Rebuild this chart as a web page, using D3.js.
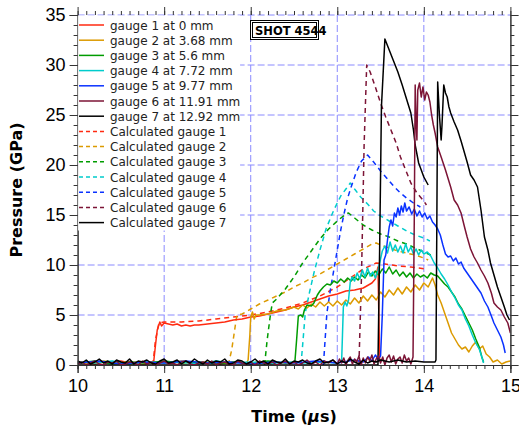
<!DOCTYPE html>
<html>
<head>
<meta charset="utf-8">
<script src="https://cdn.jsdelivr.net/npm/d3@7"></script>
<style>
body { margin: 0; background: #fff; }
svg { display: block; font-family: "DejaVu Sans", sans-serif; }
</style>
</head>
<body>
<div id="chart"></div>
<script>
// Measured gauges: [time (us), pressure (GPa)]
const gauge1 = [[10.0,0.2],[10.1,0.3],[10.2,0.1],[10.3,0.3],[10.4,0.2],[10.5,0.4],[10.6,0.2],[10.7,0.3],[10.8,0.1],[10.86,0.3],
  [10.88,0.4],[10.9,2.0],[10.92,3.5],[10.95,4.3],[10.97,3.9],[11.0,4.2],[11.05,4.1],[11.1,4.0],[11.15,4.1],[11.2,3.9],[11.25,4.0],
  [11.3,3.9],[11.35,4.0],[11.4,4.0],[11.5,4.1],[11.6,4.2],[11.7,4.3],[11.8,4.5],[11.9,4.6],[12.0,4.8],[12.1,4.9],[12.2,5.1],
  [12.3,5.3],[12.4,5.5],[12.5,5.8],[12.6,6.0],[12.7,6.3],[12.8,6.6],[12.9,6.9],[13.0,7.1],[13.1,7.4],[13.2,7.5],[13.3,7.7],
  [13.4,8.2],[13.44,8.6],[13.47,9.8],[13.48,5.0],[13.49,0.4]];
const gauge2 = [[10.0,0.3],[10.15,0.1],[10.3,0.4],[10.45,0.2],[10.6,0.3],[10.75,0.1],[10.9,0.3],[11.05,0.2],[11.2,0.4],[11.35,0.2],
  [11.5,0.3],[11.65,0.1],[11.8,0.3],[11.95,0.2],[11.97,0.5],[11.99,3.0],[12.0,4.8],[12.02,5.3],[12.04,4.6],[12.06,5.0],[12.1,5.0],
  [12.2,5.1],[12.3,5.4],[12.4,5.5],[12.5,5.8],[12.55,5.6],[12.6,6.0],[12.65,5.7],[12.7,6.1],[12.75,5.8],[12.8,6.3],[12.85,5.9],
  [12.9,6.3],[12.95,5.9],[13.0,6.4],[13.05,6.0],[13.1,6.5],[13.15,6.1],[13.2,6.7],[13.25,6.2],[13.3,6.9],[13.35,6.4],[13.4,7.0],
  [13.45,6.5],[13.5,7.3],[13.55,6.8],[13.6,7.5],[13.65,7.0],[13.7,7.7],[13.75,7.1],[13.8,7.8],[13.85,7.3],[13.9,8.0],[13.95,7.5],
  [14.0,8.2],[14.05,7.8],[14.1,8.7],[14.13,8.0],[14.16,7.0],[14.2,6.2],[14.24,5.2],[14.28,4.2],[14.32,3.2],[14.36,2.6],[14.4,2.0],
  [14.44,1.6],[14.48,1.8],[14.52,1.3],[14.56,1.9],[14.6,2.3],[14.64,1.6],[14.68,1.9],[14.72,1.1],[14.76,0.8],[14.8,0.3],
  [14.85,0.5],[14.9,0.1],[14.95,0.3],[15.0,0.4]];
const gauge3 = [[10.0,0.2],[10.2,0.4],[10.4,0.1],[10.6,0.3],[10.8,0.2],[11.0,0.4],[11.2,0.2],[11.4,0.3],[11.6,0.1],[11.8,0.3],
  [12.0,0.2],[12.2,0.4],[12.4,0.2],[12.51,0.3],[12.53,2.5],[12.55,4.9],[12.58,5.0],[12.6,4.8],[12.62,5.5],[12.65,6.0],[12.7,5.9],
  [12.73,6.2],[12.77,7.0],[12.8,7.4],[12.84,7.8],[12.88,8.1],[12.92,8.0],[12.96,8.4],[13.0,8.2],[13.04,8.6],[13.08,8.3],
  [13.12,8.7],[13.16,8.4],[13.2,8.8],[13.24,8.5],[13.28,9.0],[13.32,8.7],[13.36,9.3],[13.4,8.9],[13.44,9.4],[13.48,9.0],
  [13.52,9.6],[13.56,9.2],[13.6,9.8],[13.64,9.1],[13.68,9.5],[13.72,8.9],[13.76,9.3],[13.8,8.8],[13.84,9.2],[13.88,8.7],
  [13.92,9.1],[13.96,8.8],[14.0,9.0],[14.04,8.7],[14.08,9.2],[14.12,9.0],[14.16,8.9],[14.2,8.5],[14.24,8.1],[14.28,7.8],
  [14.32,7.3],[14.36,6.8],[14.4,6.1],[14.44,5.6],[14.48,4.9],[14.52,4.2],[14.56,3.5],[14.6,2.6],[14.64,1.8],[14.67,0.8],[14.69,0.3]];
const gauge4 = [[10.0,0.3],[10.2,0.2],[10.4,0.4],[10.6,0.1],[10.8,0.3],[11.0,0.2],[11.2,0.3],[11.4,0.1],[11.6,0.4],[11.8,0.2],
  [12.0,0.3],[12.2,0.1],[12.4,0.3],[12.6,0.2],[12.8,0.3],[13.0,0.2],[13.05,0.3],[13.06,3.0],[13.07,5.8],[13.09,6.3],[13.11,5.9],
  [13.13,6.5],[13.15,8.3],[13.17,8.8],[13.2,8.4],[13.23,9.2],[13.26,8.6],[13.29,9.5],[13.32,8.8],[13.35,9.7],[13.38,8.9],
  [13.41,9.3],[13.44,8.7],[13.47,9.4],[13.5,10.6],[13.52,11.4],[13.55,11.9],[13.58,11.2],[13.61,12.3],[13.64,11.4],[13.67,12.0],
  [13.7,11.3],[13.73,11.9],[13.76,11.2],[13.79,12.1],[13.82,11.3],[13.85,11.8],[13.88,11.1],[13.91,11.6],[13.94,11.0],
  [13.97,11.5],[14.0,11.1],[14.04,11.3],[14.08,10.9],[14.12,10.2],[14.16,9.7],[14.2,9.1],[14.24,8.6],[14.28,8.0],[14.32,7.3],
  [14.36,6.7],[14.4,6.0],[14.44,5.5],[14.48,4.6],[14.52,3.9],[14.56,3.0],[14.6,2.2],[14.64,1.6],[14.67,0.8],[14.69,0.2]];
const gauge5 = [[10.0,0.2],[10.25,0.4],[10.5,0.1],[10.75,0.3],[11.0,0.2],[11.25,0.4],[11.5,0.2],[11.75,0.3],[12.0,0.1],
  [12.25,0.3],[12.5,0.2],[12.75,0.4],[13.0,0.2],[13.2,0.5],[13.3,0.3],[13.36,0.8],[13.4,0.4],[13.44,1.0],[13.47,0.6],[13.5,0.9],
  [13.52,5.0],[13.54,10.5],[13.56,11.0],[13.58,12.5],[13.6,13.8],[13.62,14.5],[13.64,13.9],[13.66,15.2],[13.68,14.8],[13.7,15.7],
  [13.72,15.0],[13.74,15.9],[13.76,15.3],[13.78,16.2],[13.8,15.4],[13.83,15.8],[13.86,15.1],[13.89,15.6],[13.92,14.9],
  [13.95,15.4],[13.98,14.8],[14.01,15.2],[14.04,14.6],[14.07,14.9],[14.1,14.3],[14.13,14.0],[14.16,13.6],[14.19,13.0],
  [14.22,12.0],[14.25,11.1],[14.28,10.8],[14.31,10.9],[14.34,10.4],[14.37,10.7],[14.4,10.1],[14.43,10.3],[14.46,9.7],[14.5,9.2],
  [14.54,8.7],[14.58,8.2],[14.62,7.7],[14.66,7.2],[14.7,6.4],[14.74,5.8],[14.78,4.9],[14.81,4.2],[14.85,3.5],[14.89,2.8],
  [14.92,2.0],[14.94,1.2]];
const gauge6 = [[10.0,0.1],[10.05,0.3],[10.1,0.0],[10.15,0.2],[10.2,0.4],[10.25,0.1],[10.3,0.0],[10.35,0.3],[10.4,0.2],[10.45,0.4],
  [10.5,0.0],[10.55,0.1],[10.6,0.3],[10.65,0.2],[10.7,0.0],[10.75,0.4],[10.8,0.1],[10.85,0.3],[10.9,0.0],[10.95,0.2],
  [11.0,0.4],[11.05,0.1],[11.1,0.2],[11.15,0.0],[11.2,0.3],[11.25,0.4],[11.3,0.1],[11.35,0.0],[11.4,0.2],[11.45,0.3],
  [11.5,0.1],[11.55,0.4],[11.6,0.0],[11.65,0.2],[11.7,0.3],[11.75,0.1],[11.8,0.0],[11.85,0.4],[11.9,0.2],[11.95,0.1],
  [12.0,0.3],[12.05,0.0],[12.1,0.4],[12.15,0.2],[12.2,0.1],[12.25,0.3],[12.3,0.0],[12.35,0.2],[12.4,0.4],[12.45,0.1],
  [12.5,0.3],[12.55,0.0],[12.6,0.2],[12.65,0.5],[12.7,0.1],[12.75,0.3],[12.8,0.0],[12.85,0.4],[12.9,0.2],[12.95,0.5],
  [13.0,0.1],[13.025,0.6],[13.05,0.2],[13.075,0.7],[13.1,0.0],[13.125,0.5],[13.15,0.8],[13.175,0.1],[13.2,0.6],[13.225,0.3],
  [13.25,0.9],[13.275,0.0],[13.3,0.7],[13.325,0.2],[13.35,0.8],[13.375,0.4],[13.4,1.0],[13.425,0.1],[13.45,0.6],[13.475,0.9],
  [13.5,0.2],[13.525,0.8],[13.55,0.0],[13.575,0.7],[13.6,1.0],[13.625,0.3],[13.65,0.9],[13.675,0.1],[13.7,0.6],[13.725,0.8],
  [13.75,0.2],[13.775,1.0],[13.8,0.4],[13.825,0.7],[13.85,0.1],[13.875,0.8],
  [13.89,15.0],[13.9,28.0],[13.91,24.5],
  [13.92,22.5],[13.93,27.5],[13.95,28.2],[13.97,26.8],[13.99,27.8],[14.01,26.5],[14.03,27.3],[14.05,27.0],[14.07,26.3],
  [14.09,25.0],[14.11,24.0],[14.13,23.2],[14.16,21.8],[14.2,20.8],[14.25,19.5],[14.31,17.8],[14.35,16.5],[14.39,16.0],
  [14.43,15.2],[14.47,13.8],[14.5,12.8],[14.54,11.6],[14.58,10.8],[14.62,10.2],[14.66,9.5],[14.7,8.9],[14.74,8.2],[14.78,7.2],
  [14.81,6.2],[14.85,5.8],[14.89,5.5],[14.93,4.8],[14.97,4.2],[15.0,3.2]];
const gauge7 = [[10.0,0.4],[10.05,0.2],[10.1,0.5],[10.15,0.1],[10.2,0.3],[10.25,0.6],[10.3,0.2],[10.35,0.4],[10.4,0.1],[10.45,0.5],
  [10.5,0.3],[10.55,0.2],[10.6,0.6],[10.65,0.1],[10.7,0.4],[10.75,0.3],[10.8,0.5],[10.85,0.2],[10.9,0.1],[10.95,0.4],
  [11.0,0.6],[11.05,0.2],[11.1,0.3],[11.15,0.5],[11.2,0.1],[11.25,0.4],[11.3,0.2],[11.35,0.6],[11.4,0.3],[11.45,0.1],
  [11.5,0.5],[11.55,0.2],[11.6,0.4],[11.65,0.3],[11.7,0.6],[11.75,0.1],[11.8,0.2],[11.85,0.5],[11.9,0.4],[11.95,0.1],
  [12.0,0.3],[12.05,0.6],[12.1,0.2],[12.15,0.4],[12.2,0.1],[12.25,0.5],[12.3,0.3],[12.35,0.2],[12.4,0.6],[12.45,0.1],
  [12.5,0.4],[12.55,0.3],[12.6,0.5],[12.65,0.2],[12.7,0.1],[12.75,0.4],[12.8,0.6],[12.85,0.2],[12.9,0.3],[12.95,0.5],
  [13.0,0.1],[13.05,0.4],[13.1,0.2],[13.15,0.6],[13.2,0.3],[13.25,0.1],[13.3,0.5],[13.35,0.2],[13.4,0.4],[13.45,0.3],
  [13.5,0.5],[13.6,0.3],[13.7,0.5],[13.8,0.3],[13.9,0.4],[14.0,0.3],[14.13,0.3],
  [14.14,0.5],[14.15,14.0],[14.16,28.3],[14.18,25.0],[14.2,22.5],
  [14.21,24.0],[14.23,28.0],[14.25,27.2],[14.27,26.8],[14.29,25.8],[14.31,25.2],[14.35,24.3],[14.39,23.5],[14.43,22.4],
  [14.46,21.5],[14.5,20.3],[14.54,19.0],[14.58,18.5],[14.62,17.8],[14.66,15.5],[14.7,12.8],[14.74,11.5],[14.77,10.2],
  [14.81,9.0],[14.85,7.8],[14.89,6.8],[14.93,5.8],[14.96,5.0],[14.99,4.5]];

// Calculated gauges
const calc1 = [[10.87,0],[10.9,2.5],[10.94,4.2],[11.0,4.3],[11.2,4.3],[11.4,4.4],[11.6,4.6],[11.8,4.8],[12.0,5.0],[12.2,5.3],
  [12.4,5.7],[12.6,6.2],[12.8,6.9],[13.0,7.8],[13.1,8.4],[13.2,9.0],[13.3,9.6],[13.4,10.0],[13.45,10.2],[13.55,10.1],[13.7,9.9],
  [13.85,9.8],[14.02,9.6]];
const calc2 = [[11.74,0],[11.78,1.5],[11.84,5.0],[11.9,5.1],[12.0,5.6],[12.1,6.1],[12.2,6.5],[12.3,6.9],[12.4,7.3],[12.5,7.8],
  [12.6,8.2],[12.7,8.7],[12.8,9.1],[12.9,9.6],[13.0,10.1],[13.1,10.6],[13.2,11.1],[13.3,11.6],[13.4,12.1],[13.45,12.2],
  [13.5,12.0],[13.6,11.7],[13.7,11.4],[13.8,11.2],[13.9,11.0],[14.0,10.7],[14.05,10.5]];
const calc3 = [[12.16,0],[12.19,2.5],[12.23,5.2],[12.25,6.2],[12.3,6.6],[12.4,7.6],[12.5,8.8],[12.6,10.2],[12.7,11.4],[12.8,12.6],
  [12.9,13.6],[13.0,14.4],[13.1,15.1],[13.13,15.2],[13.2,14.7],[13.3,14.0],[13.4,13.5],[13.5,13.1],[13.6,12.8],[13.7,12.4],
  [13.8,12.1],[13.9,11.7],[14.0,11.3],[14.08,11.0]];
const calc4 = [[12.58,0],[12.6,2.0],[12.63,5.2],[12.68,7.3],[12.73,9.2],[12.8,11.5],[12.87,13.6],[12.96,15.5],[13.04,16.9],
  [13.1,17.6],[13.15,18.2],[13.2,17.6],[13.27,16.8],[13.35,16.1],[13.42,15.4],[13.5,14.9],[13.6,14.4],[13.7,13.9],[13.8,13.4],
  [13.9,13.0],[14.0,12.7],[14.07,12.4]];
const calc5 = [[12.84,0],[12.88,5.2],[12.92,7.5],[12.96,9.5],[13.0,11.5],[13.04,13.5],[13.08,15.2],[13.12,16.7],[13.16,17.8],
  [13.22,19.3],[13.28,20.4],[13.35,21.0],[13.42,20.3],[13.5,19.4],[13.58,18.6],[13.66,17.8],[13.73,17.2],[13.8,16.7],
  [13.88,16.2],[13.96,15.8]];
const calc6 = [[13.25,0],[13.28,9.0],[13.31,22.0],[13.34,30.0],[13.38,29.3],[13.44,27.8],[13.5,26.2],[13.56,24.8],[13.62,23.5],
  [13.68,22.2],[13.73,20.8],[13.79,19.5],[13.85,18.2],[13.92,17.2],[14.0,16.4],[14.03,16.0]];
const calc7 = [[10.0,0],[13.47,0],[13.49,12.0],[13.51,25.8],[13.55,32.6],[13.6,31.5],[13.65,30.4],[13.7,29.3],[13.75,28.0],
  [13.8,26.6],[13.85,25.2],[13.88,23.5],[13.9,22.0],[13.94,20.2],[14.0,18.8],[14.05,18.0]];

const legendLabels = ["gauge 1 at 0 mm", "gauge 2 at 3.68 mm", "gauge 3 at 5.6 mm", "gauge 4 at 7.72 mm",
  "gauge 5 at 9.77 mm", "gauge 6 at 11.91 mm", "gauge 7 at 12.92 mm",
  "Calculated gauge 1", "Calculated gauge 2", "Calculated gauge 3", "Calculated gauge 4",
  "Calculated gauge 5", "Calculated gauge 6", "Calculated gauge 7"];
const gaugeColors = ["#ff2a10", "#dc9a00", "#009c00", "#00cccc", "#0a32ff", "#7c1436", "#000000"];
const xTicks = [10, 11, 12, 13, 14, 15];
const yTicks = [0, 5, 10, 15, 20, 25, 30, 35];

const width = 519;
const height = 430;
const margin = { top: 15, right: 8.6, bottom: 65, left: 77.6 };

const svg = d3.select("#chart")
  .append("svg")
  .attr("width", width)
  .attr("height", height);

const x = d3.scaleLinear().domain([10, 15]).range([margin.left, width - margin.right]);
const y = d3.scaleLinear().domain([0, 35]).range([height - margin.bottom, margin.top]);

const x0 = x.range()[0], x1 = x.range()[1], y0 = y.range()[0], y1 = y.range()[1];

// grid
const grid = svg.append("g")
  .attr("stroke", "#8a8aff")
  .attr("stroke-width", 1)
  .attr("stroke-dasharray", "7,3");
grid.selectAll("line.v")
  .data(xTicks.slice(1, -1))
  .enter().append("line")
  .attr("x1", d => x(d)).attr("x2", d => x(d))
  .attr("y1", y1).attr("y2", y0);
grid.selectAll("line.h")
  .data(yTicks.slice(1))
  .enter().append("line")
  .attr("x1", x0).attr("x2", x1)
  .attr("y1", d => y(d)).attr("y2", d => y(d));

svg.append("clipPath").attr("id", "plotclip")
  .append("rect")
  .attr("x", x0).attr("y", y1 - 2)
  .attr("width", x1 - x0).attr("height", y0 - y1 + 4);

const line = d3.line().x(d => x(d[0])).y(d => y(d[1]));

const plot = svg.append("g").attr("clip-path", "url(#plotclip)")
  .attr("fill", "none")
  .attr("stroke-linejoin", "round");

// draw order: calculated first, then measured, gauge 6 and 7 on top
const traces = [
  { data: calc1, c: 0, dash: true }, { data: calc2, c: 1, dash: true }, { data: calc3, c: 2, dash: true },
  { data: calc4, c: 3, dash: true }, { data: calc5, c: 4, dash: true }, { data: calc6, c: 5, dash: true },
  { data: gauge1, c: 0 }, { data: gauge2, c: 1 }, { data: gauge3, c: 2 }, { data: gauge4, c: 3 },
  { data: gauge5, c: 4 }, { data: calc7, c: 6 }, { data: gauge6, c: 5 }, { data: gauge7, c: 6 }
];

plot.selectAll("path")
  .data(traces)
  .enter().append("path")
  .attr("d", d => line(d.data))
  .attr("stroke", d => gaugeColors[d.c])
  .attr("stroke-width", 1.5)
  .attr("stroke-dasharray", d => d.dash ? "5,4" : null);

// axes
const axisColor = "#333";
const minorX = d3.range(100, 151).map(d => d / 10);
const minorY = d3.range(0, 36);

function styleAxis(g) {
  g.selectAll("path.domain").attr("stroke", axisColor);
  g.selectAll("line").attr("stroke", axisColor);
}

svg.append("g").attr("transform", `translate(0,${y0})`)
  .call(d3.axisBottom(x).tickValues(minorX).tickSize(4).tickFormat(""))
  .call(styleAxis);
svg.append("g").attr("transform", `translate(0,${y0})`)
  .call(d3.axisBottom(x).tickValues(xTicks).tickSize(8).tickPadding(6).tickFormat(d3.format("d")))
  .call(styleAxis)
  .selectAll("text")
  .style("font-size", "18px")
  .attr("fill", "#000");

svg.append("g").attr("transform", `translate(0,${y1})`)
  .call(d3.axisTop(x).tickValues(minorX).tickSize(4).tickFormat(""))
  .call(styleAxis)
  .select("path.domain").remove();
svg.append("g").attr("transform", `translate(0,${y1})`)
  .call(d3.axisTop(x).tickValues(xTicks).tickSize(8).tickFormat(""))
  .call(styleAxis)
  .select("path.domain").remove();

svg.append("g").attr("transform", `translate(${x0},0)`)
  .call(d3.axisLeft(y).tickValues(minorY).tickSize(4).tickFormat(""))
  .call(styleAxis);
svg.append("g").attr("transform", `translate(${x0},0)`)
  .call(d3.axisLeft(y).tickValues(yTicks).tickSize(8).tickPadding(4))
  .call(styleAxis)
  .selectAll("text")
  .style("font-size", "18px")
  .attr("fill", "#000");

svg.append("g").attr("transform", `translate(${x1},0)`)
  .call(d3.axisRight(y).tickValues(minorY).tickSize(4).tickFormat(""))
  .call(styleAxis);
svg.append("g").attr("transform", `translate(${x1},0)`)
  .call(d3.axisRight(y).tickValues(yTicks).tickSize(8).tickFormat(""))
  .call(styleAxis);

// axis titles
const xTitle = svg.append("text")
  .attr("x", (x0 + x1) / 2)
  .attr("y", 422)
  .attr("text-anchor", "middle")
  .style("font-size", "16px")
  .style("font-weight", "bold");
xTitle.append("tspan").text("Time (");
xTitle.append("tspan").style("font-style", "italic").text("\u03bc");
xTitle.append("tspan").text("s)");

svg.append("text")
  .attr("transform", `translate(22,${(y0 + y1) / 2}) rotate(-90)`)
  .attr("text-anchor", "middle")
  .style("font-size", "16px")
  .style("font-weight", "bold")
  .text("Pressure (GPa)");

// legend
const legend = svg.append("g");
legend.append("rect")
  .attr("x", x0 + 0.5).attr("y", y1 + 0.5)
  .attr("width", 162).attr("height", 215)
  .attr("fill", "#fff");

const legendStyles = legendLabels.map((label, i) => ({
  label: label,
  c: i % 7,
  dash: i >= 7 && i < 13
}));

const items = legend.selectAll("g.item")
  .data(legendStyles)
  .enter().append("g")
  .attr("transform", (d, i) => `translate(0,${25 + i * 15.2})`);

items.append("line")
  .attr("x1", 79).attr("x2", 104)
  .attr("y1", 0).attr("y2", 0)
  .attr("stroke", d => gaugeColors[d.c])
  .attr("stroke-width", 1.5)
  .attr("stroke-dasharray", d => d.dash ? "4,3" : null);

items.append("text")
  .attr("x", 110).attr("y", 4.5)
  .style("font-size", "12px")
  .attr("fill", "#222")
  .text(d => d.label);

// shot label
const shot = svg.append("g");
shot.append("rect")
  .attr("x", 250.5).attr("y", 20.5).attr("width", 68).attr("height", 19)
  .attr("fill", "#fff").attr("stroke", "#000").attr("stroke-width", 1);
shot.append("rect")
  .attr("x", 252.5).attr("y", 22.5).attr("width", 64).attr("height", 15)
  .attr("fill", "none").attr("stroke", "#000").attr("stroke-width", 1);
shot.append("text")
  .attr("x", 255).attr("y", 34.5)
  .style("font-size", "11.5px")
  .style("font-weight", "bold")
  .text("SHOT 4544");
</script>
</body>
</html>
